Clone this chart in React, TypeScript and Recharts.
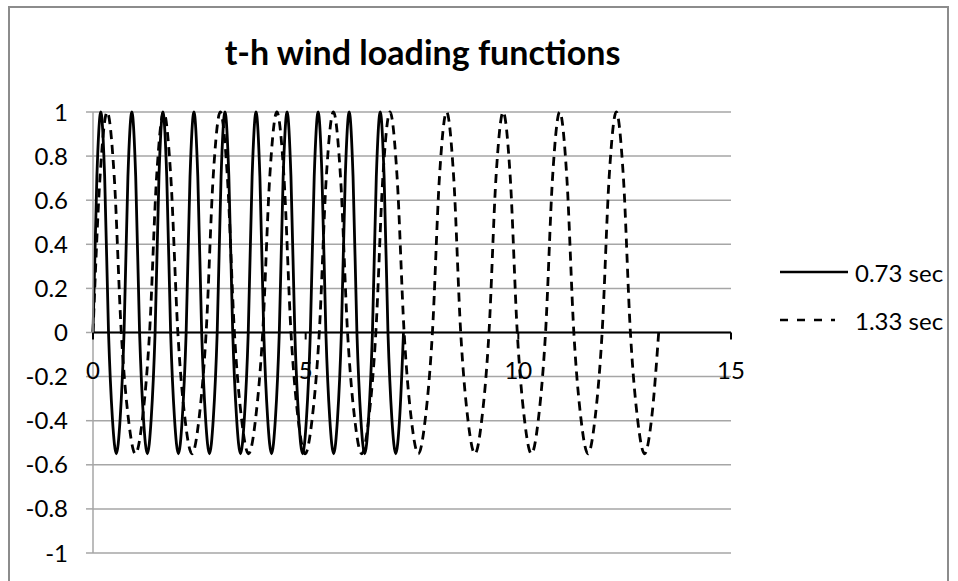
import React from "react";
import {
  LineChart,
  Line,
  XAxis,
  YAxis,
  CartesianGrid,
  ReferenceLine,
  ReferenceDot,
  Legend,
} from "recharts";

// Time samples (s) for the 0.73 s load: ten cycles, eight samples per cycle
const TIMES_073 = [
  0, 0.091, 0.183, 0.274, 0.365, 0.456, 0.548, 0.639,
  0.73, 0.821, 0.913, 1.004, 1.095, 1.186, 1.278, 1.369,
  1.46, 1.551, 1.643, 1.734, 1.825, 1.916, 2.008, 2.099,
  2.19, 2.281, 2.373, 2.464, 2.555, 2.646, 2.738, 2.829,
  2.92, 3.011, 3.103, 3.194, 3.285, 3.376, 3.468, 3.559,
  3.65, 3.741, 3.833, 3.924, 4.015, 4.106, 4.198, 4.289,
  4.38, 4.471, 4.563, 4.654, 4.745, 4.836, 4.928, 5.019,
  5.11, 5.201, 5.293, 5.384, 5.475, 5.566, 5.658, 5.749,
  5.84, 5.931, 6.023, 6.114, 6.205, 6.296, 6.388, 6.479,
  6.57, 6.661, 6.753, 6.844, 6.935, 7.026, 7.118, 7.209,
  7.3,
];

// Normalised load for the 0.73 s function
const LOAD_073 = [
  0, 0.707, 1, 0.707, 0, -0.389, -0.55, -0.389,
  0, 0.707, 1, 0.707, 0, -0.389, -0.55, -0.389,
  0, 0.707, 1, 0.707, 0, -0.389, -0.55, -0.389,
  0, 0.707, 1, 0.707, 0, -0.389, -0.55, -0.389,
  0, 0.707, 1, 0.707, 0, -0.389, -0.55, -0.389,
  0, 0.707, 1, 0.707, 0, -0.389, -0.55, -0.389,
  0, 0.707, 1, 0.707, 0, -0.389, -0.55, -0.389,
  0, 0.707, 1, 0.707, 0, -0.389, -0.55, -0.389,
  0, 0.707, 1, 0.707, 0, -0.389, -0.55, -0.389,
  0, 0.707, 1, 0.707, 0, -0.389, -0.55, -0.389,
  0,
];

// Time samples (s) for the 1.33 s load
const TIMES_133 = [
  0, 0.166, 0.333, 0.499, 0.665, 0.831, 0.998, 1.164,
  1.33, 1.496, 1.663, 1.829, 1.995, 2.161, 2.328, 2.494,
  2.66, 2.826, 2.993, 3.159, 3.325, 3.491, 3.658, 3.824,
  3.99, 4.156, 4.323, 4.489, 4.655, 4.821, 4.988, 5.154,
  5.32, 5.486, 5.653, 5.819, 5.985, 6.151, 6.318, 6.484,
  6.65, 6.816, 6.983, 7.149, 7.315, 7.481, 7.648, 7.814,
  7.98, 8.146, 8.313, 8.479, 8.645, 8.811, 8.978, 9.144,
  9.31, 9.476, 9.643, 9.809, 9.975, 10.141, 10.308, 10.474,
  10.64, 10.806, 10.973, 11.139, 11.305, 11.471, 11.638, 11.804,
  11.97, 12.136, 12.303, 12.469, 12.635, 12.801, 12.968, 13.134,
  13.3,
];

// Normalised load for the 1.33 s function
const LOAD_133 = [
  0, 0.707, 1, 0.707, 0, -0.389, -0.55, -0.389,
  0, 0.707, 1, 0.707, 0, -0.389, -0.55, -0.389,
  0, 0.707, 1, 0.707, 0, -0.389, -0.55, -0.389,
  0, 0.707, 1, 0.707, 0, -0.389, -0.55, -0.389,
  0, 0.707, 1, 0.707, 0, -0.389, -0.55, -0.389,
  0, 0.707, 1, 0.707, 0, -0.389, -0.55, -0.389,
  0, 0.707, 1, 0.707, 0, -0.389, -0.55, -0.389,
  0, 0.707, 1, 0.707, 0, -0.389, -0.55, -0.389,
  0, 0.707, 1, 0.707, 0, -0.389, -0.55, -0.389,
  0, 0.707, 1, 0.707, 0, -0.389, -0.55, -0.389,
  0,
];

const X_TICKS = [0, 5, 10, 15];
const Y_TICKS = [-1, -0.8, -0.6, -0.4, -0.2, 0, 0.2, 0.4, 0.6, 0.8, 1];

const SERIES_NAMES = ["0.73 sec", "1.33 sec"];
const TITLE = "t-h wind loading functions";

const FONT = "Lato, 'Liberation Sans', sans-serif";
const GRID = "#a6a6a6";

const series073 = TIMES_073.map((t, i) => ({ t, v: LOAD_073[i] }));
const series133 = TIMES_133.map((t, i) => ({ t, v: LOAD_133[i] }));

// Tick mark and label for the horizontal axis, which sits on y = 0
const makeXTick = (value: number) => (props: any) => {
  const { cx, cy } = props;
  return (
    <g>
      <line x1={cx} x2={cx} y1={cy} y2={cy + 7} stroke="#000" strokeWidth={2} />
      <text
        x={cx}
        y={cy + 37}
        textAnchor="middle"
        dominantBaseline="central"
        fontFamily={FONT}
        fontSize={24}
        fill="#000"
      >
        {value}
      </text>
    </g>
  );
};

const LegendContent = (props: any) => {
  const payload = props.payload || [];
  return (
    <svg width={180} height={80}>
      {payload.map((entry: any, i: number) => {
        const y = 17 + i * 48;
        const dashed = entry.payload && entry.payload.strokeDasharray;
        return (
          <g key={i}>
            <line
              x1={5}
              x2={dashed ? 60 : 73}
              y1={y}
              y2={y}
              stroke="#000"
              strokeWidth={2.5}
              strokeDasharray={dashed ? "8 9" : undefined}
            />
            <text
              x={80}
              y={y}
              dominantBaseline="central"
              fontFamily={FONT}
              fontSize={24}
              fill="#000"
            >
              {entry.value}
            </text>
          </g>
        );
      })}
    </svg>
  );
};

export default function App() {
  return (
    <div
      style={{
        position: "absolute",
        left: 0,
        top: 0,
        width: 958,
        height: 581,
        background: "#fff",
        overflow: "hidden",
      }}
    >
      <div
        style={{
          position: "absolute",
          left: 8,
          top: 6,
          width: 941,
          height: 640,
          border: "2px solid #8c8c8c",
          boxSizing: "border-box",
        }}
      />
      <div
        style={{
          position: "absolute",
          left: 0,
          top: 35,
          width: 845,
          textAlign: "center",
          fontFamily: FONT,
          fontWeight: 700,
          fontSize: 34,
          lineHeight: "34px",
          color: "#000",
        }}
      >
        {TITLE}
      </div>
      <div style={{ position: "absolute", left: 0, top: 0 }}>
        <LineChart
          width={958}
          height={581}
          margin={{ top: 112, right: 227, bottom: 28, left: 0 }}
        >
          <CartesianGrid vertical={false} stroke={GRID} strokeWidth={1.5} />
          <XAxis type="number" dataKey="t" domain={[0, 15]} ticks={X_TICKS} hide />
          <YAxis
            type="number"
            domain={[-1, 1]}
            ticks={Y_TICKS}
            width={93}
            interval={0}
            axisLine={{ stroke: GRID, strokeWidth: 1.5 }}
            tickLine={{ stroke: GRID, strokeWidth: 1.5 }}
            tickSize={7}
            tickMargin={18}
            tick={{ fill: "#000", fontSize: 24, fontFamily: FONT }}
          />
          <ReferenceLine y={0} stroke="#000" strokeWidth={2.2} />
          {X_TICKS.map((v) => (
            <ReferenceDot key={v} x={v} y={0} r={0} ifOverflow="visible" shape={makeXTick(v)} />
          ))}
          <Line
            data={series073}
            dataKey="v"
            name={SERIES_NAMES[0]}
            type="monotone"
            stroke="#000"
            strokeWidth={2.8}
            dot={false}
            activeDot={false}
            isAnimationActive={false}
          />
          <Line
            data={series133}
            dataKey="v"
            name={SERIES_NAMES[1]}
            type="monotone"
            stroke="#000"
            strokeWidth={2.8}
            strokeDasharray="9 6"
            dot={false}
            activeDot={false}
            isAnimationActive={false}
          />
          <Legend
            layout="vertical"
            align="center"
            verticalAlign="middle"
            content={LegendContent}
            wrapperStyle={{ position: "absolute", left: 775, top: 255, width: 180, height: 80 }}
          />
        </LineChart>
      </div>
    </div>
  );
}
